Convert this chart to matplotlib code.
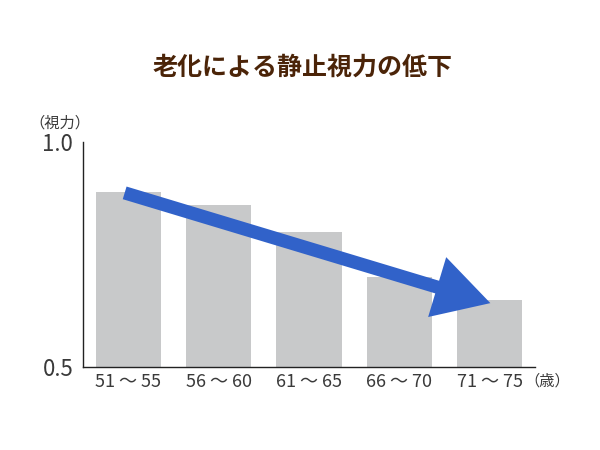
import matplotlib
matplotlib.use("Agg")
import matplotlib.pyplot as plt

plt.rcParams['font.family'] = ['Noto Sans CJK JP', 'DejaVu Sans']

ages = ["51 ～ 55", "56 ～ 60", "61 ～ 65", "66 ～ 70", "71 ～ 75"]
vision = [0.89, 0.86, 0.80, 0.70, 0.65]

fig = plt.figure(figsize=(6, 4.5), dpi=100)
ax = fig.add_axes([0.1383, 0.1844, 0.7534, 0.5])

x = list(range(len(ages)))
ax.bar(x, [v - 0.5 for v in vision], bottom=0.5, width=0.72, color="#c8c9ca")
ax.set_xlim(-0.5, 4.5)
ax.set_ylim(0.5, 1.0)
ax.set_yticks([0.5, 1.0])
ax.set_yticklabels(["0.5", "1.0"], fontsize=16, color="#3a3a3a")
ax.set_xticks(x)
ax.set_xticklabels(ages, fontsize=13, color="#3a3a3a")
ax.tick_params(length=0, pad=4)
ax.tick_params(axis='y', pad=7)
for s in ["top", "right"]:
    ax.spines[s].set_visible(False)
for s in ["left", "bottom"]:
    ax.spines[s].set_color("#222222")
    ax.spines[s].set_linewidth(1)

# trend arrow
ax.annotate("", xy=(4.006, 0.642), xytext=(-0.039, 0.887),
            arrowprops=dict(arrowstyle="simple,head_length=4.0,head_width=4.5,tail_width=0.95",
                            mutation_scale=10, color="#3162c9", lw=0,
                            shrinkA=0, shrinkB=0))

fig.text(0.504, 0.849, "老化による静止視力の低下", ha="center", va="center",
         fontsize=18, fontweight="bold", color="#4b2408")
fig.text(0.1, 0.726, "（視力）", ha="center", va="center", fontsize=11, color="#3a3a3a")
fig.text(0.912, 0.153, "（歳）", ha="center", va="center", fontsize=11, color="#3a3a3a")

fig.savefig("out.png", dpi=100)
